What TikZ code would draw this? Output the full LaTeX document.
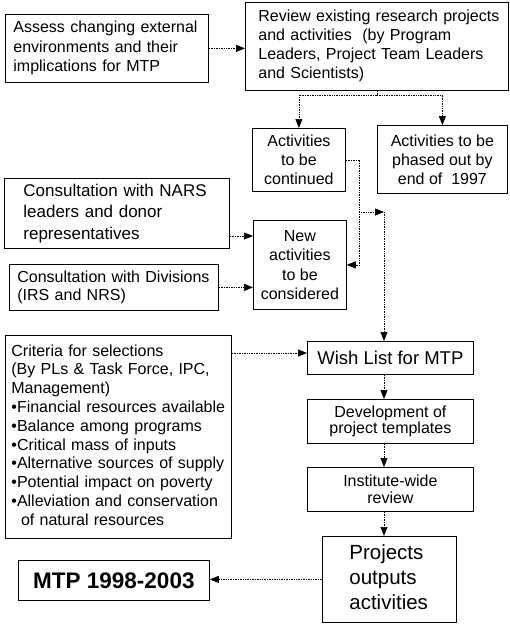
\documentclass[tikz,border=0pt]{standalone}
\usepackage{fontspec}
\setmainfont{Liberation Sans}
\usetikzlibrary{arrows.meta}
\newcommand\fsz[2]{\fontsize{#1}{#2}\selectfont}
\newcommand\ltab[1]{\begin{tabular}{@{}l@{}}#1\end{tabular}}
\begin{document}
\begin{tikzpicture}[x=1pt,y=-1pt,
  box/.style={draw, line width=0.8pt, anchor=north west, inner sep=0pt, align=center},
  lbox/.style={box, align=left},
  conn/.style={densely dotted, line width=0.7pt, -{Triangle[length=9pt,width=7pt]}},
  dline/.style={densely dotted, line width=0.7pt}]
\path[fill=white] (0,0) rectangle (510,625);
\useasboundingbox (0,0) rectangle (510,625);

\node[lbox, minimum height=68pt, inner xsep=8pt, text width=187pt, font=\fsz{16}{19.5}] (assess) at (5,14)
  {\ltab{Assess changing external\\environments and their\\implications for MTP}};
\node[lbox, minimum height=88pt, inner xsep=13pt, text width=237pt, font=\fsz{16}{19}] (review) at (245,2)
  {\ltab{Review existing research projects\\and activities \ (by Program\\Leaders, Project Team Leaders\\and Scientists)}};
\node[box, minimum width=93pt, minimum height=63pt, font=\fsz{16}{19}] (cont) at (252,128)
  {Activities\\to be\\continued};
\node[box, minimum width=130pt, minimum height=68pt, font=\fsz{16}{19}] (phased) at (377,125)
  {Activities to be\\phased out by\\end of \ 1997};
\node[lbox, minimum height=70pt, inner xsep=19pt, text width=187pt, font=\fsz{17}{21.5}] (nars) at (4,178)
  {\ltab{Consultation with NARS\\leaders and donor\\representatives}};
\node[lbox, minimum height=46pt, inner xsep=8pt, text width=193pt, font=\fsz{16}{18}] (divs) at (9,264)
  {\ltab{Consultation with Divisions\\(IRS and NRS)}};
\node[box, minimum width=93pt, minimum height=89pt, font=\fsz{16}{19.5}] (new) at (253,220)
  {New\\activities\\to be\\considered};
\node[lbox, minimum height=203pt, inner xsep=6pt, text width=214pt, font=\fsz{16}{18.8}] (crit) at (5,335)
  {\ltab{Criteria for selections\\(By PLs \& Task Force, IPC,\\Management)\\•Financial resources available\\•Balance among programs\\•Critical mass of inputs\\•Alternative sources of supply\\•Potential impact on poverty\\•Alleviation and conservation\\\hspace*{0.6em}of natural resources}};
\node[box, minimum width=166pt, minimum height=33pt, font=\fsz{18.5}{20}] (wish) at (307,341)
  {Wish List for MTP};
\node[box, minimum width=166pt, minimum height=44pt, font=\fsz{16}{16.5}] (dev) at (307,399)
  {Development of\\project templates};
\node[box, minimum width=166pt, minimum height=44pt, font=\fsz{16}{17}] (inst) at (307,467)
  {Institute-wide\\review};
\node[lbox, minimum height=86pt, inner xsep=27pt, text width=80pt, font=\fsz{20.5}{25}] (proj) at (322,536)
  {\ltab{Projects\\outputs\\activities}};
\node[box, minimum width=191pt, minimum height=40pt, font=\fsz{22.5}{24}\bfseries] (mtp) at (18,560)
  {MTP 1998-2003};

\draw[conn] (assess.east) -- (review.west |- assess.east);
\coordinate (split) at (377,95);
\draw[dline] (review.south -| split) -- (split);
\draw[conn] (split) -| (cont.north);
\draw[conn] (split) -| (phased.north);
\draw[conn] (cont.east) -- ++(14,0) |- (new.east);
\coordinate (ny) at (0,236);
\draw[conn] (nars.east |- ny) -- (new.west |- ny);
\draw[conn] (divs.east) -- (new.west |- divs.east);
\coordinate (m1) at (361,212);
\coordinate (m2) at (384,212);
\draw[conn] (m1) -- (m2);
\draw[conn] (m2) -- (wish.north -| m2);
\coordinate (cy) at (0,353);
\draw[conn] (crit.east |- cy) -- (wish.west |- cy);
\draw[conn] (wish.south -| m2) -- (dev.north -| m2);
\draw[conn] (dev.south -| m2) -- (inst.north -| m2);
\draw[conn] (inst.south -| m2) -- (proj.north -| m2);
\draw[conn] (proj.west) -- (mtp.east |- proj.west);
\end{tikzpicture}
\end{document}
